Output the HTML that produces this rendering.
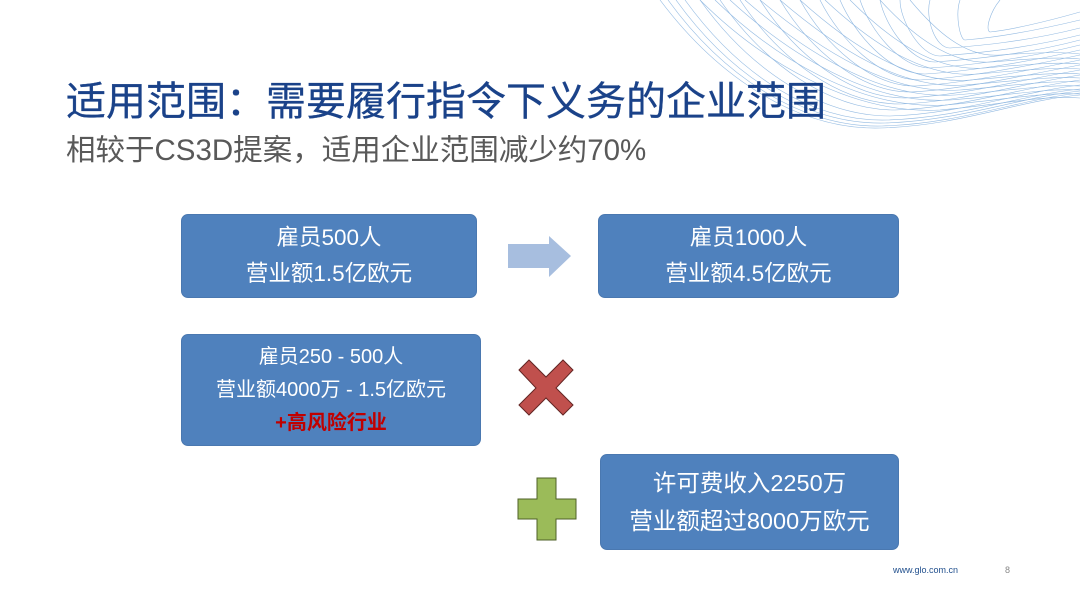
<!DOCTYPE html>
<html><head><meta charset="utf-8">
<style>
html,body{margin:0;padding:0;background:#fff;}
body{width:1080px;height:608px;position:relative;overflow:hidden;font-family:"Liberation Sans","Noto Sans CJK SC",sans-serif;}
.t{position:absolute;left:66px;top:74px;font-size:40px;font-weight:normal;-webkit-text-stroke:0.3px #1a4289;color:#1a4289;white-space:nowrap;line-height:56px;}
.s{position:absolute;left:66px;top:131px;font-size:29.5px;color:#595959;white-space:nowrap;line-height:40px;}
.b{position:absolute;background:#4f81bd;border-radius:7px;color:#fff;text-align:center;box-sizing:border-box;display:flex;flex-direction:column;justify-content:center;border:1px solid #4a78b0;}
.b div{white-space:nowrap;}
.f{position:absolute;font-size:9px;color:#1f4e8c;}
</style></head><body>
<svg width="1080" height="608" style="position:absolute;left:0;top:0" fill="none">
<g stroke="#6fa3d8" stroke-width="0.6" opacity="0.75">
<path d="M660,0 C720,80 800,130 880,128 C960,126 1020,100 1080,95"/>
<path d="M668,0 C726,80 805,128 882,126 C960,124 1020,99 1080,93"/>
<path d="M676,0 C732,78 808,125 885,123 C960,121 1020,97 1080,91"/>
<path d="M685,0 C740,76 812,122 887,120 C960,118 1020,95 1080,89"/>
<path d="M700,0 C750,70 820,116 890,116 C960,114 1020,92 1080,85"/>
<path d="M720,0 C765,65 830,110 895,110 C960,108 1020,88 1080,80"/>
<path d="M740,0 C780,60 840,104 900,104 C960,102 1020,84 1080,75"/>
<path d="M760,0 C795,55 850,98 905,98 C960,96 1020,80 1080,70"/>
<path d="M780,0 C810,50 860,92 910,92 C960,90 1020,76 1080,65"/>
<path d="M800,0 C825,45 870,86 915,86 C960,84 1020,72 1080,60"/>
<path d="M820,0 C840,40 880,80 920,80 C960,78 1020,68 1080,55"/>
<path d="M840,0 C855,35 890,74 925,74 C960,72 1020,64 1080,50"/>
<path d="M860,0 C870,30 900,68 930,68 C960,66 1020,60 1080,45"/>
<path d="M880,0 C885,25 910,62 935,62 C960,60 1020,56 1080,40"/>
<path d="M900,0 C900,20 920,56 940,56 C965,54 1020,50 1080,35"/>
<path d="M930,0 C925,18 935,48 950,48 C975,46 1025,42 1080,28"/>
<path d="M960,0 C955,15 960,40 965,40 C990,38 1030,32 1080,20"/>
<path d="M1000,0 C990,12 985,30 990,32 C1010,30 1045,22 1080,12"/>
<path d="M700,0 C760,60 850,115 940,110 C1000,105 1040,95 1080,98"/>
<path d="M715,0 C775,58 860,110 945,105 C1003,100 1042,92 1080,94"/>
<path d="M730,0 C790,55 870,105 950,100 C1005,96 1045,88 1080,90"/>
<path d="M745,0 C805,52 880,100 955,95 C1008,91 1048,84 1080,86"/>
<path d="M760,0 C820,50 890,95 960,90 C1010,86 1050,80 1080,82"/>
<path d="M780,0 C835,47 900,90 965,85 C1015,81 1052,76 1080,78"/>
<path d="M800,0 C850,45 910,85 970,80 C1020,76 1055,72 1080,74"/>
<path d="M825,0 C870,42 922,78 977,74 C1025,70 1058,67 1080,69"/>
<path d="M850,0 C890,40 935,72 985,68 C1030,64 1060,62 1080,64"/>
<path d="M880,0 C912,35 950,65 992,62 C1035,58 1062,57 1080,59"/>
<path d="M910,0 C935,30 965,58 1000,55 C1040,52 1065,52 1080,54"/>
</g>
<path d="M508,244 L549,244 L549,236 L571,256 L549,277 L549,268 L508,268 Z" fill="#a7bedf"/>
<path d="M519,370 L529,360 L546,377 L563,360 L573,370 L556,388 L573,405 L563,415 L546,398 L529,415 L519,405 L536,388 Z" fill="#c0504d" stroke="#632523" stroke-width="1"/>
<path d="M537,478 L556,478 L556,499 L576,499 L576,519 L556,519 L556,540 L537,540 L537,519 L518,519 L518,499 L537,499 Z" fill="#9bbb59" stroke="#4f6228" stroke-width="1"/>
</svg>
<div class="t">适用范围：需要履行指令下义务的企业范围</div>
<div class="s">相较于CS3D提案，适用企业范围减少约70%</div>
<div class="b" style="left:181px;top:214px;width:296px;height:84px;font-size:22.5px;line-height:36px;"><div>雇员500人</div><div>营业额1.5亿欧元</div></div>
<div class="b" style="left:598px;top:214px;width:301px;height:84px;font-size:22.5px;line-height:36px;"><div>雇员1000人</div><div>营业额4.5亿欧元</div></div>
<div class="b" style="left:181px;top:334px;width:300px;height:112px;font-size:20px;line-height:33px;"><div>雇员250 - 500人</div><div>营业额4000万 - 1.5亿欧元</div><div style="color:#c00000;font-weight:bold;">+高风险行业</div></div>
<div class="b" style="left:600px;top:454px;width:299px;height:96px;font-size:23.5px;line-height:38px;"><div>许可费收入2250万</div><div>营业额超过8000万欧元</div></div>
<div class="f" style="left:893px;top:565px;">www.glo.com.cn</div>
<div class="f" style="left:1005px;top:565px;color:#888;">8</div>
</body></html>
